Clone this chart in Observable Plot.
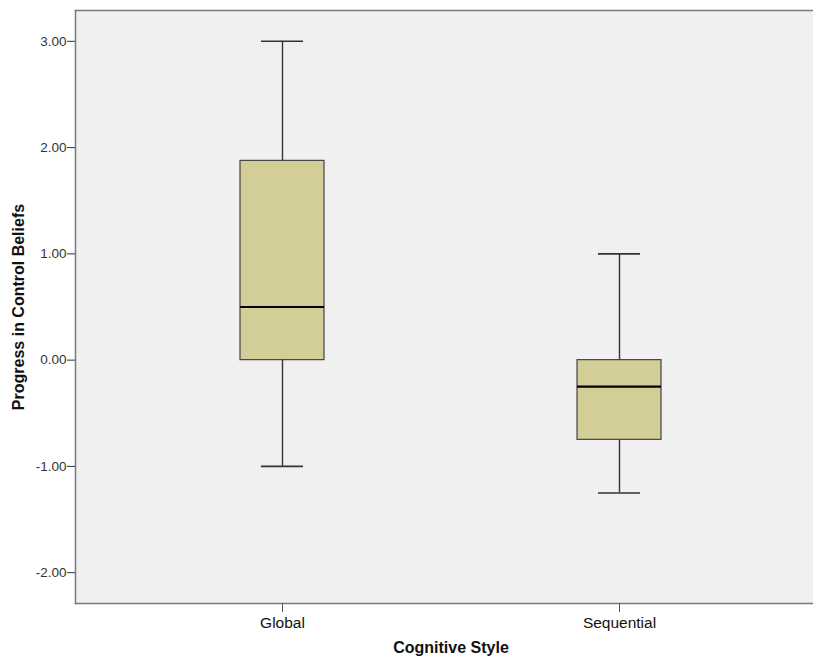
<!DOCTYPE html>
<html>
<head>
<meta charset="utf-8">
<script src="https://cdn.jsdelivr.net/npm/d3@7"></script>
<script src="https://cdn.jsdelivr.net/npm/@observablehq/plot@0.6"></script>
<style>
  html, body { margin: 0; padding: 0; background: #fff; overflow: hidden; }
  #chart { width: 813px; height: 660px; overflow: hidden; }
  #chart svg { max-width: none; display: block; }
</style>
</head>
<body>
<div id="chart"></div>
<script>
const categories = ["Global", "Sequential"];
const mins    = [-1, -1.25];
const q1s     = [0, -0.75];
const medians = [0.5, -0.25];
const q3s     = [1.875, 0];
const maxs    = [3, 1];
const yTicks  = [-2, -1, 0, 1, 2, 3];
const xTitle  = "Cognitive Style";
const yTitle  = "Progress in Control Beliefs";

const rows = categories.map((c, i) => ({
  cat: c, min: mins[i], q1: q1s[i], med: medians[i], q3: q3s[i], max: maxs[i]
}));

const font = "'Liberation Sans', Arial, sans-serif";
const border = { stroke: "#7a7a7a", strokeWidth: 1.5 };

const chart = Plot.plot({
  width: 826,
  height: 660,
  marginLeft: 75,
  marginTop: 10,
  marginBottom: 57,
  marginRight: 0,
  style: { fontFamily: font, background: "#fff" },
  x: { type: "band", domain: categories, range: [239.7, 661.7], paddingInner: 0.751, paddingOuter: 0 },
  y: { domain: [-2.29, 3.29] },
  marks: [
    Plot.frame({ fill: "#f0f0f0" }),
    Plot.frame({ anchor: "left", ...border }),
    Plot.frame({ anchor: "top", ...border }),
    Plot.frame({ anchor: "bottom", ...border }),
    Plot.ruleX(rows, { x: "cat", y1: "min", y2: "q1", stroke: "#333", strokeWidth: 1.4 }),
    Plot.ruleX(rows, { x: "cat", y1: "q3", y2: "max", stroke: "#333", strokeWidth: 1.4 }),
    Plot.tickY(rows, { x: "cat", y: "min", stroke: "#333", strokeWidth: 1.6, insetLeft: 21, insetRight: 21 }),
    Plot.tickY(rows, { x: "cat", y: "max", stroke: "#333", strokeWidth: 1.6, insetLeft: 21, insetRight: 21 }),
    Plot.barY(rows, { x: "cat", y1: "q1", y2: "q3", fill: "#d3ce97", stroke: "#444", strokeWidth: 1.2 }),
    Plot.tickY(rows, { x: "cat", y: "med", stroke: "#000", strokeWidth: 2.2 }),
    Plot.axisY({ ticks: yTicks, tickFormat: d => d.toFixed(2), tickSize: 8, tickPadding: 1, fontSize: 13.5, label: null, stroke: "#333", fill: "#333" }),
    Plot.axisX({ tickSize: 9, tickPadding: 4, fontSize: 15.5, label: null, stroke: "#555", fill: "#111" }),
    Plot.text([xTitle], { frameAnchor: "bottom", dy: 49, text: d => d, fontSize: 16, fontWeight: "bold", fill: "#111" }),
    Plot.text([yTitle], { frameAnchor: "left", dx: -57, rotate: -90, textAnchor: "middle", text: d => d, fontSize: 16, fontWeight: "bold", fill: "#111" })
  ]
});

document.getElementById("chart").appendChild(chart);
</script>
</body>
</html>
